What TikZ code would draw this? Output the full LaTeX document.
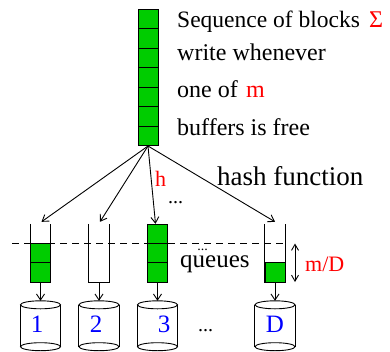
\documentclass[tikz,border=0pt]{standalone}
\usepackage{fontspec}
\setmainfont{Liberation Serif}
\usetikzlibrary{arrows.meta,calc}
\definecolor{bgreen}{HTML}{00CC00}
\begin{document}
\begin{tikzpicture}[x=1pt,y=-1pt,
  ln/.style={line width=0.9pt},
  arr/.style={ln,-{Straight Barb[length=6pt,width=8pt]}},
  blk/.style={draw,ln,fill=bgreen},
  qbox/.style={minimum width=20pt,minimum height=58pt,inner sep=0pt},
  cyl/.style={minimum width=40pt,minimum height=49.5pt,inner sep=0pt},
  txt/.style={anchor=base west,inner sep=0pt,font=\fontsize{24}{26}\selectfont},
  lab/.style={anchor=base,inner sep=0pt,text=blue,font=\fontsize{25}{27}\selectfont},
  dots/.style={anchor=base,inner sep=0pt}]
\useasboundingbox (0,0) rectangle (390,351);
% top stack
\node[blk,minimum width=20pt,minimum height=136.5pt,inner sep=0pt] (stack) at (148,77.25) {};
\foreach \k in {1,...,6} \draw[ln] (138,9+19.5*\k) -- (158,9+19.5*\k);
% texts
\node[txt,font=\fontsize{23.5}{26}\selectfont] (t1) at (177,27) {Sequence of blocks};
\node[txt,text=red] (sig) at (369,27) {Σ};
\node[txt] (t2) at (177,60) {write whenever};
\node[txt] (t3) at (177,97) {one of};
\node[txt,text=red] (tm) at (246,97) {m};
\node[txt] (t4) at (177,135) {buffers is free};
% queues
\node[qbox] (q1) at (40.5,253) {};
\node[qbox] (q2) at (99,253) {};
\node[qbox] (q3) at (157.5,253) {};
\node[qbox] (qD) at (275,253) {};
\draw[blk] (30.5,243.5) rectangle (50.5,262.75);
\draw[blk] (30.5,262.75) rectangle (50.5,282);
\draw[blk] (147.5,224) rectangle (167.5,243.33);
\draw[blk] (147.5,243.33) rectangle (167.5,262.67);
\draw[blk] (147.5,262.67) rectangle (167.5,282);
\draw[blk] (265,262.75) rectangle (285,282);
\foreach \q in {q1,q2,q3,qD}
  \draw[ln] (\q.north west) -- (\q.south west) -- (\q.south east) -- (\q.north east);
% dashed line
\draw[ln,dash pattern=on 7pt off 5pt] (12,243.3) -- (285,243.3);
% hash arrows
\coordinate (src) at (148,146);
\draw[arr] (src) -- ($(q1.north)+(1,-2)$);
\draw[arr] (src) -- ($(q2.north)+(1,-2)$);
\draw[arr] (src) -- ($(q3.north)+(-2,0)$);
\draw[arr] (src) -- ($(qD.north)+(0,-2)$);
\node[anchor=base west,inner sep=0pt,text=red,font=\fontsize{22}{24}\selectfont] (h) at (155,186.5) {h};
\node[anchor=base west,inner sep=0pt,font=\fontsize{27}{29}\selectfont] (hf) at (217,185) {hash function};
\node[dots,font=\fontsize{20}{22}\selectfont] (dh) at (175.5,203) {...};
\node[dots,font=\fontsize{14}{16}\selectfont] (dq) at (202.5,250) {...};
\node[anchor=base west,inner sep=0pt,font=\fontsize{25}{27}\selectfont] (qu) at (180,267.5) {queues};
% m/D
\coordinate (mt) at (295,243.5);
\coordinate (mb) at (295,282);
\draw[ln,{Straight Barb[length=6pt,width=7pt]}-{Straight Barb[length=6pt,width=7pt]}] (mt) -- (mb);
\node[anchor=base west,inner sep=0pt,text=red,font=\fontsize{22}{24}\selectfont] (md) at (305,271.5) {m/D};
% disks
\node[cyl] (d1) at (40.5,325.75) {};
\node[cyl] (d2) at (99,325.75) {};
\node[cyl] (d3) at (157.5,325.75) {};
\node[cyl] (dD) at (275,325.75) {};
\foreach \d in {d1,d2,d3,dD}{
  \draw[ln] ($(\d.north)+(0,4)$) ellipse [x radius=20pt,y radius=4pt];
  \draw[ln] ($(\d.south)+(0,-4)$) ellipse [x radius=20pt,y radius=4pt];
  \draw[ln] ($(\d.north west)+(0,4)$) -- ($(\d.south west)+(0,-4)$);
  \draw[ln] ($(\d.north east)+(0,4)$) -- ($(\d.south east)+(0,-4)$);
}
\draw[arr] (q1.south) -- (d1.north);
\draw[arr] (q2.south) -- (d2.north);
\draw[arr] (q3.south) -- (d3.north);
\draw[arr] (qD.south) -- (dD.north);
\node[lab] (l1) at (37,332.3) {1};
\node[lab] (l2) at (96,332.3) {2};
\node[lab] (l3) at (164,332.3) {3};
\node[lab] (lD) at (275,332.3) {D};
\node[dots,font=\fontsize{20}{22}\selectfont] (dd) at (205.5,331) {...};
\end{tikzpicture}
\end{document}
